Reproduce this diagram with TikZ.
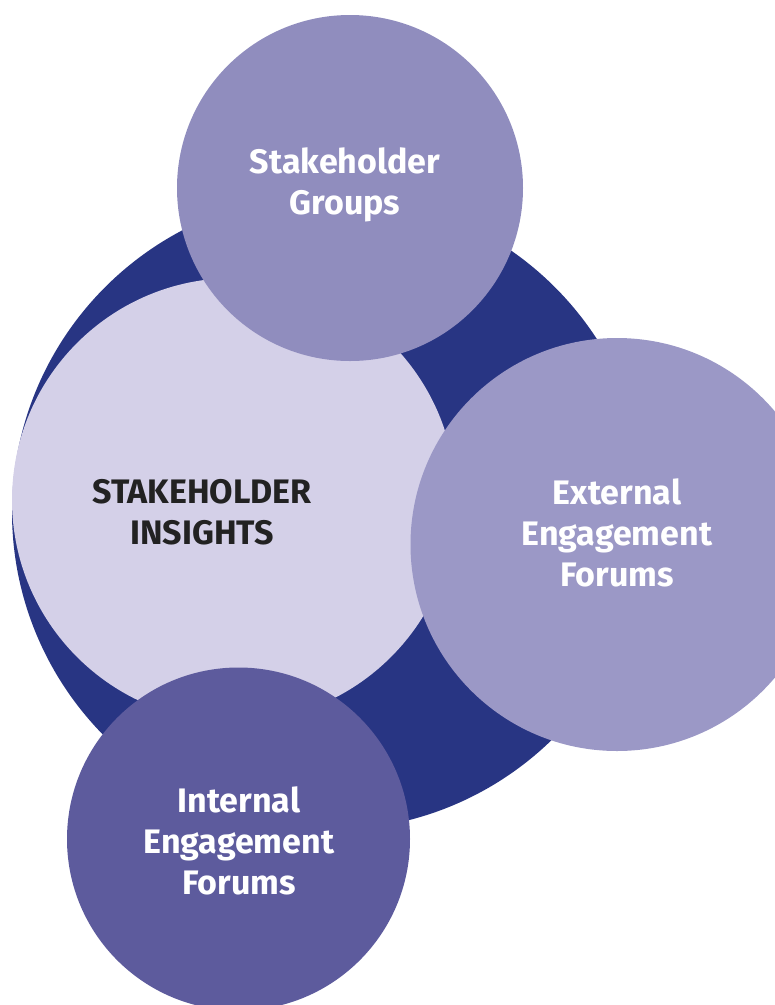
\documentclass[tikz,border=0pt]{standalone}
\usepackage{fontspec}
\setmainfont{Fira Sans}
\definecolor{navy}{HTML}{283583}
\definecolor{lilac}{HTML}{D4D0E8}
\definecolor{groupsfill}{HTML}{908DBE}
\definecolor{externalfill}{HTML}{9B98C6}
\definecolor{internalfill}{HTML}{5D5B9D}
\definecolor{darktext}{HTML}{222222}
\begin{document}
\begin{tikzpicture}[x=1pt,y=-1pt,
  disc/.style={circle,inner sep=0pt,draw=none,minimum size=#1},
  caption/.style={align=center,font=\fontsize{34}{41}\selectfont\bfseries,inner sep=0pt,text=white}]
\useasboundingbox (0,0) rectangle (775,1005);
% background ring and the central circle
\node[disc=636pt,fill=navy] (ring) at (330,512) {};
\node[disc=444pt,fill=lilac] (core) at (234,500) {};
% satellite circles
\node[disc=346pt,fill=groupsfill] (groups) at (350,188) {};
\node[disc=413pt,fill=externalfill] (external) at (617,544.5) {};
\node[disc=343pt,fill=internalfill] (internal) at (238.5,839) {};
% labels
\node[caption,text=darktext] (coretext) at (202,512) {STAKEHOLDER\\INSIGHTS};
\node[caption] (groupstext) at (345,184.5) {Stakeholder\\Groups};
\node[caption] (externaltext) at (617,533) {External\\Engagement\\Forums};
\node[caption] (internaltext) at (239,841) {Internal\\Engagement\\Forums};
\end{tikzpicture}
\end{document}
